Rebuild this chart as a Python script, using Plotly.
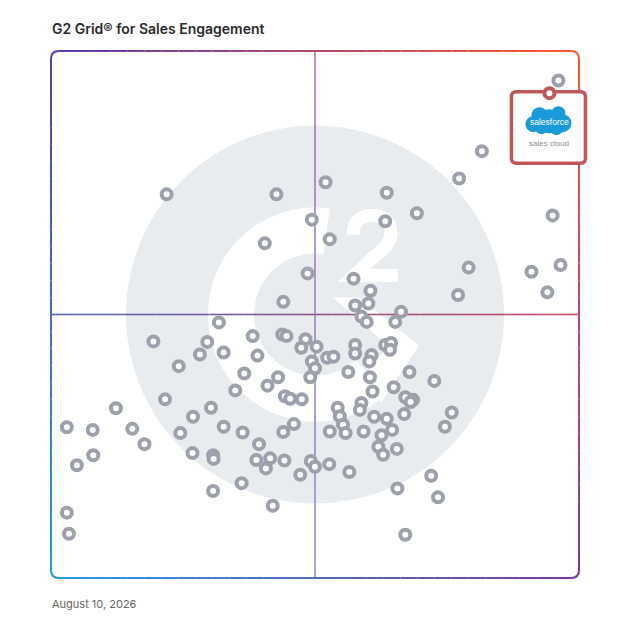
import numpy as np
import plotly.graph_objects as go

# G2 scores (x: satisfaction, y: market presence, 0-100)
satisfaction = [96.1, 81.6, 77.3, 52.0, 63.6, 21.9, 42.7, 69.3, 49.4, 63.3,
                95.0, 52.8, 40.5, 79.1, 91.0, 96.5, 48.6, 57.3, 60.5, 94.0,
                77.1, 44.0, 60.1, 57.6, 66.3, 58.8, 59.8, 65.2, 31.8, 19.4,
                29.6, 38.2, 43.8, 44.6, 48.2, 47.4, 50.3, 57.6, 57.6, 63.3,
                64.4, 64.2, 28.2, 32.7, 39.1, 52.3, 53.5, 60.7, 60.3, 49.4,
                50.0, 24.2, 36.6, 43.0, 41.0, 49.1, 56.3, 60.4, 67.9, 72.6,
                34.9, 60.9, 64.9, 21.6, 44.3, 45.3, 47.5, 67.1, 68.6, 68.1,
                12.3, 30.3, 26.9, 54.3, 54.7, 58.8, 58.5, 61.2, 63.6, 66.9,
                75.9, 74.6, 3.0, 7.9, 15.4, 32.7, 36.3, 24.5, 44.0, 46.0,
                55.3, 52.8, 55.8, 59.2, 64.6, 62.6, 62.0, 62.9, 65.5, 17.7,
                39.4, 8.0, 4.9, 26.8, 30.7, 30.8, 38.9, 41.5, 40.7, 44.2,
                49.2, 50.0, 52.7, 56.5, 47.2, 72.0, 36.1, 65.6, 73.3, 30.7,
                42.0, 3.0, 3.4, 67.1]
market_presence = [94.4, 81.0, 75.8, 75.1, 73.1, 72.8, 72.8, 69.2, 68.0, 67.7,
                   68.8, 64.3, 63.5, 58.9, 58.1, 59.4, 57.8, 56.8, 54.5, 54.2,
                   53.7, 52.4, 52.1, 51.7, 50.5, 49.6, 48.6, 48.6, 48.5, 44.9,
                   44.8, 45.9, 46.2, 45.9, 45.3, 43.7, 43.9, 44.2, 42.6, 44.2,
                   44.6, 43.3, 42.4, 42.8, 42.2, 41.8, 42.0, 42.3, 41.1, 41.1,
                   39.8, 40.2, 38.8, 38.1, 36.5, 38.1, 39.1, 38.1, 39.1, 37.4,
                   35.6, 35.4, 36.2, 33.9, 34.5, 34.0, 33.9, 34.3, 33.8, 33.4,
                   32.2, 32.3, 30.6, 32.3, 30.7, 33.2, 31.9, 30.6, 30.2, 31.1,
                   31.4, 28.7, 28.6, 28.1, 28.3, 28.7, 27.6, 27.5, 27.7, 29.2,
                   29.1, 27.8, 27.5, 27.8, 28.1, 27.1, 24.9, 23.4, 24.5, 25.4,
                   25.4, 23.3, 21.4, 23.7, 23.3, 22.6, 22.4, 22.7, 20.8, 22.3,
                   22.2, 21.1, 21.6, 20.1, 19.6, 19.4, 18.0, 17.0, 15.3, 16.5,
                   13.7, 12.4, 8.4, 8.2]

leader_satisfaction = [94.4]
leader_presence = [92.0]
leader_brand = "salesforce"
leader_product = "sales cloud"

chart_title = "G2 Grid® for Sales Engagement"
chart_date = "August 10, 2026"

# one score unit in pixels is ~5.28 px wide / 5.27 px tall
PX = 100 / 528
PY = 100 / 527
# plot area is 550 x 550 px starting 40 px from the left/top edge
PAPER = 550

GRAY = "#9ca1ac"
RED = "#c0585a"
TL, TR = (90, 60, 168), (255, 88, 46)
BL, BR = (40, 156, 218), (124, 58, 156)


def mix(c0, c1, t):
    return "rgb(%d,%d,%d)" % tuple(round(a + (b - a) * t) for a, b in zip(c0, c1))


def grad_line(x0, y0, x1, y1, c0, c1, width, n=30, opacity=1.0):
    segs = []
    for i in range(n):
        t0, t1 = i / n, (i + 1) / n
        segs.append(dict(type="line", xref="x", yref="y", layer="below",
                         x0=x0 + (x1 - x0) * t0, y0=y0 + (y1 - y0) * t0,
                         x1=x0 + (x1 - x0) * t1, y1=y0 + (y1 - y0) * t1,
                         opacity=opacity,
                         line=dict(color=mix(c0, c1, (t0 + t1) / 2), width=width)))
    return segs


def off(dx, dy):
    # pixel offset from the grid centre (dy points down) -> score units
    return 50 + dx * PX, 50 - dy * PY


def path_of(pts, close=True):
    s = "M " + " L ".join("%.3f,%.3f" % p for p in pts)
    return s + (" Z" if close else "")


shapes = []

# watermark G2 logo
r_big = 189
shapes.append(dict(type="circle", xref="x", yref="y", layer="below",
                   x0=50 - r_big * PX, x1=50 + r_big * PX,
                   y0=50 - r_big * PY, y1=50 + r_big * PY,
                   fillcolor="#e9ecef", line=dict(width=0)))
ang = np.radians(np.linspace(82, 312, 80))
outer = [off(107 * np.cos(a), -107 * np.sin(a)) for a in ang]
inner = [off(61 * np.cos(a), -61 * np.sin(a)) for a in ang[::-1]]
shapes.append(dict(type="path", xref="x", yref="y", layer="below",
                   path=path_of(outer + inner), fillcolor="white", line=dict(width=0)))
chevron = [off(18, -17), off(44, -17), off(104, 31), off(66, 88), off(44, 68), off(73, 31)]
shapes.append(dict(type="path", xref="x", yref="y", layer="below",
                   path=path_of(chevron), fillcolor="white", line=dict(width=0)))
two = [(38, -80), (38, -94), (47, -99), (57, -99), (69, -99), (76, -92), (76, -82),
       (76, -71), (67, -64), (57, -56)]
two_pts = [off(*p) for p in two]
two_path = ("M %.3f,%.3f C %.3f,%.3f %.3f,%.3f %.3f,%.3f C %.3f,%.3f %.3f,%.3f %.3f,%.3f "
            "C %.3f,%.3f %.3f,%.3f %.3f,%.3f" % tuple(v for p in two_pts for v in p))
two_path += " L %.3f,%.3f L %.3f,%.3f" % (off(39, -39) + off(83, -39))
shapes.append(dict(type="path", xref="x", yref="y", layer="below",
                   path=two_path, line=dict(color="white", width=13)))

# quadrant lines
shapes += grad_line(0, 50, 100, 50, (74, 92, 180), (200, 66, 88), 1.6, opacity=0.95)
shapes += grad_line(50, 100, 50, 0, (164, 104, 168), (140, 134, 204), 1.6, opacity=0.9)

# gradient border with rounded corners
rx, ry = 8 * PX, 8 * PY
shapes += grad_line(rx, 100, 100 - rx, 100, TL, TR, 2)
shapes += grad_line(100, 100 - ry, 100, ry, TR, BR, 2)
shapes += grad_line(100 - rx, 0, rx, 0, BR, BL, 2)
shapes += grad_line(0, ry, 0, 100 - ry, BL, TL, 2)
corners = [((0, 100 - ry), (0, 100), (rx, 100), TL),
           ((100 - rx, 100), (100, 100), (100, 100 - ry), TR),
           ((100, ry), (100, 0), (100 - rx, 0), BR),
           ((rx, 0), (0, 0), (0, ry), BL)]
for a, c, b, col in corners:
    shapes.append(dict(type="path", xref="x", yref="y", layer="below",
                       path="M %.3f,%.3f Q %.3f,%.3f %.3f,%.3f" % (a + c + b),
                       line=dict(color=mix(col, col, 0), width=2)))

# leader highlight box
lx, ly = leader_satisfaction[0], leader_presence[0]
bx0, bx1 = lx - 38 * PX, lx + 36 * PX
by1, by0 = ly + 1.5 * PY, ly - 70 * PY
qx, qy = 5 * PX, 5 * PY
box = ("M %f,%f L %f,%f Q %f,%f %f,%f L %f,%f Q %f,%f %f,%f L %f,%f Q %f,%f %f,%f "
       "L %f,%f Q %f,%f %f,%f Z" % (bx0 + qx, by1, bx1 - qx, by1, bx1, by1, bx1, by1 - qy,
                                   bx1, by0 + qy, bx1, by0, bx1 - qx, by0,
                                   bx0 + qx, by0, bx0, by0, bx0, by0 + qy,
                                   bx0, by1 - qy, bx0, by1, bx0 + qx, by1))
shapes.append(dict(type="path", xref="x", yref="y", layer="below", path=box,
                   fillcolor="white", line=dict(color=RED, width=3.5)))

# salesforce cloud
for dx, dy, r in [(0, 28, 12), (-16, 31, 8), (13, 30, 9), (-10, 22, 8),
                  (9, 20, 7), (-8, 34, 7), (7, 35, 7)]:
    cx, cy = lx + dx * PX, ly - dy * PY
    shapes.append(dict(type="circle", xref="x", yref="y", layer="below",
                       x0=cx - r * PX, x1=cx + r * PX, y0=cy - r * PY, y1=cy + r * PY,
                       fillcolor="#1b9ad9", line=dict(width=0)))

fig = go.Figure()
fig.add_trace(go.Scatter(x=satisfaction, y=market_presence, mode="markers",
                         marker=dict(size=10, color="white", line=dict(color=GRAY, width=4)),
                         hoverinfo="x+y", showlegend=False))
fig.add_trace(go.Scatter(x=leader_satisfaction, y=leader_presence, mode="markers",
                         marker=dict(size=10, color="white", line=dict(color=RED, width=4)),
                         hoverinfo="x+y", showlegend=False))

annotations = [
    dict(x=lx, y=ly - 28.5 * PY, xref="x", yref="y", text=leader_brand, showarrow=False,
         font=dict(family="Liberation Sans", size=8.5, color="white")),
    dict(x=lx, y=ly - 50 * PY, xref="x", yref="y", text=leader_product, showarrow=False,
         font=dict(family="Liberation Sans", size=8, color="#8c8c8c")),
    dict(x=(50 - 40) / PAPER, y=(590 - 29) / PAPER, xref="paper", yref="paper",
         text=chart_title, showarrow=False, xanchor="left", yanchor="middle",
         font=dict(family="Inter", size=14, color="#2b2b2b", weight=600)),
    dict(x=(50 - 40) / PAPER, y=(590 - 604) / PAPER, xref="paper", yref="paper",
         text=chart_date, showarrow=False, xanchor="left", yanchor="middle",
         font=dict(family="Inter", size=11, color="#666666")),
]

fig.update_layout(
    width=628, height=628,
    margin=dict(l=40, r=38, t=40, b=38),
    paper_bgcolor="white", plot_bgcolor="white",
    xaxis=dict(range=[-11 * PX, 100 + 11 * PX], visible=False, fixedrange=True),
    yaxis=dict(range=[-12 * PY, 100 + 11 * PY], visible=False, fixedrange=True),
    shapes=shapes,
    annotations=annotations,
)

fig.write_html("out.html", config={"displayModeBar": False},
               post_script="document.body.style.margin = '0';")
